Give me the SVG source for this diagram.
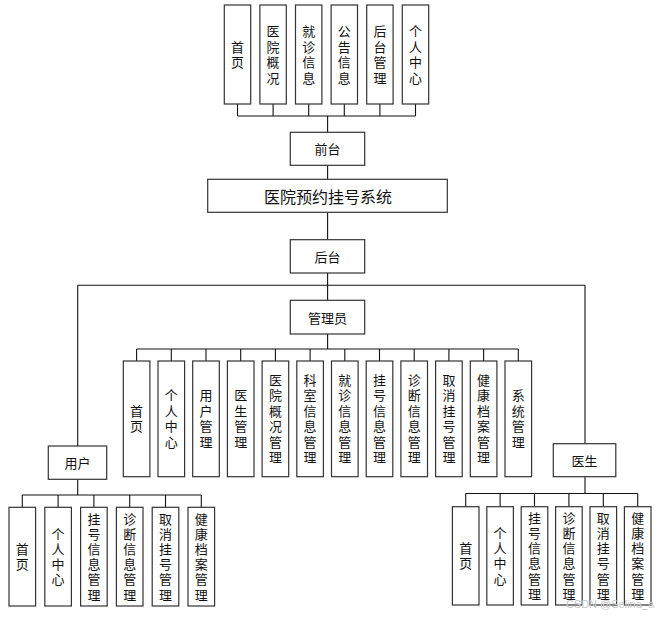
<svg xmlns="http://www.w3.org/2000/svg" width="664" height="618" viewBox="0 0 664 618">
<style>
rect.b{fill:#fff;stroke:#333;stroke-width:1.2}
text{font-family:"Noto Sans CJK SC","Liberation Sans",sans-serif;font-size:13px;fill:#111;text-anchor:middle}
text.h{dominant-baseline:central}
text.t{font-size:16px;dominant-baseline:central}
text.v{writing-mode:vertical-rl;text-orientation:upright;letter-spacing:2.5px}
text.u{letter-spacing:2.2px}
#connectors line{stroke:#111;stroke-width:1.1}
text.wm{font-family:"Liberation Sans",sans-serif;font-size:11px;fill:#c8c8c8;dominant-baseline:central}
</style>
<rect width="664" height="618" fill="#fff"/>
<g id="connectors">
<line x1="237.5" y1="104" x2="237.5" y2="116"/><line x1="273.1" y1="104" x2="273.1" y2="116"/><line x1="308.7" y1="104" x2="308.7" y2="116"/><line x1="344.3" y1="104" x2="344.3" y2="116"/><line x1="379.9" y1="104" x2="379.9" y2="116"/><line x1="415.5" y1="104" x2="415.5" y2="116"/>
<line x1="237.5" y1="116" x2="415.5" y2="116"/>
<line x1="327.6" y1="116" x2="327.6" y2="132.3"/>
<line x1="327.6" y1="165.3" x2="327.6" y2="179.3"/>
<line x1="327.6" y1="212.3" x2="327.6" y2="239.7"/>
<line x1="327.6" y1="273" x2="327.6" y2="300.3"/>
<line x1="77.7" y1="285.3" x2="585" y2="285.3"/>
<line x1="77.7" y1="285.3" x2="77.7" y2="446"/>
<line x1="585" y1="285.3" x2="585" y2="443.7"/>
<line x1="327.6" y1="334" x2="327.6" y2="349"/>
<line x1="136.6" y1="349" x2="518.3" y2="349"/>
<line x1="136.6" y1="349" x2="136.6" y2="361"/><line x1="171.3" y1="349" x2="171.3" y2="361"/><line x1="206" y1="349" x2="206" y2="361"/><line x1="240.7" y1="349" x2="240.7" y2="361"/><line x1="275.4" y1="349" x2="275.4" y2="361"/><line x1="310.1" y1="349" x2="310.1" y2="361"/><line x1="344.8" y1="349" x2="344.8" y2="361"/><line x1="379.5" y1="349" x2="379.5" y2="361"/><line x1="414.2" y1="349" x2="414.2" y2="361"/><line x1="448.9" y1="349" x2="448.9" y2="361"/><line x1="483.6" y1="349" x2="483.6" y2="361"/><line x1="518.3" y1="349" x2="518.3" y2="361"/>
<line x1="77.7" y1="479.3" x2="77.7" y2="495"/>
<line x1="22.3" y1="495" x2="201.3" y2="495"/>
<line x1="22.3" y1="495" x2="22.3" y2="507.3"/><line x1="58.1" y1="495" x2="58.1" y2="507.3"/><line x1="93.9" y1="495" x2="93.9" y2="507.3"/><line x1="129.7" y1="495" x2="129.7" y2="507.3"/><line x1="165.5" y1="495" x2="165.5" y2="507.3"/><line x1="201.3" y1="495" x2="201.3" y2="507.3"/>
<line x1="585" y1="476.7" x2="585" y2="493.5"/>
<line x1="465.7" y1="493.5" x2="637.7" y2="493.5"/>
<line x1="465.7" y1="493.5" x2="465.7" y2="506.7"/><line x1="500.1" y1="493.5" x2="500.1" y2="506.7"/><line x1="534.5" y1="493.5" x2="534.5" y2="506.7"/><line x1="568.9" y1="493.5" x2="568.9" y2="506.7"/><line x1="603.3" y1="493.5" x2="603.3" y2="506.7"/><line x1="637.7" y1="493.5" x2="637.7" y2="506.7"/>
</g>

<g id="front-1"><rect class="b" x="224.3" y="5" width="26.4" height="99"/><text class="v" x="237.5" y="55.7">首页</text></g>
<g id="front-2"><rect class="b" x="259.9" y="5" width="26.4" height="99"/><text class="v" x="273.1" y="55.7">医院概况</text></g>
<g id="front-3"><rect class="b" x="295.5" y="5" width="26.4" height="99"/><text class="v" x="308.7" y="55.7">就诊信息</text></g>
<g id="front-4"><rect class="b" x="331.1" y="5" width="26.4" height="99"/><text class="v" x="344.3" y="55.7">公告信息</text></g>
<g id="front-5"><rect class="b" x="366.7" y="5" width="26.4" height="99"/><text class="v" x="379.9" y="55.7">后台管理</text></g>
<g id="front-6"><rect class="b" x="402.3" y="5" width="26.4" height="99"/><text class="v" x="415.5" y="55.7">个人中心</text></g>

<g id="qiantai"><rect class="b" x="290.3" y="132.3" width="74.4" height="33"/><text class="h" x="327.5" y="148.8">前台</text></g>
<g id="system"><rect class="b" x="207.7" y="179.3" width="239.6" height="33"/><text class="t" x="328" y="196">医院预约挂号系统</text></g>
<g id="houtai"><rect class="b" x="290.3" y="239.7" width="74.4" height="33.3"/><text class="h" x="327.5" y="256.4">后台</text></g>
<g id="admin"><rect class="b" x="290.3" y="300.3" width="74.4" height="33.7"/><text class="h" x="327.5" y="317.2">管理员</text></g>
<g id="user"><rect class="b" x="48.3" y="446" width="58.4" height="33.3"/><text class="h" x="77.5" y="462.7">用户</text></g>
<g id="doctor"><rect class="b" x="553.3" y="443.7" width="62.5" height="33"/><text class="h" x="584.5" y="460.2">医生</text></g>

<g id="admin-1"><rect class="b" x="123.3" y="361" width="26.6" height="115.7"/><text class="v" x="136.6" y="420">首页</text></g>
<g id="admin-2"><rect class="b" x="158" y="361" width="26.6" height="115.7"/><text class="v" x="171.3" y="420">个人中心</text></g>
<g id="admin-3"><rect class="b" x="192.7" y="361" width="26.6" height="115.7"/><text class="v" x="206" y="420">用户管理</text></g>
<g id="admin-4"><rect class="b" x="227.4" y="361" width="26.6" height="115.7"/><text class="v" x="240.7" y="420">医生管理</text></g>
<g id="admin-5"><rect class="b" x="262.1" y="361" width="26.6" height="115.7"/><text class="v" x="275.4" y="420">医院概况管理</text></g>
<g id="admin-6"><rect class="b" x="296.8" y="361" width="26.6" height="115.7"/><text class="v" x="310.1" y="420">科室信息管理</text></g>
<g id="admin-7"><rect class="b" x="331.5" y="361" width="26.6" height="115.7"/><text class="v" x="344.8" y="420">就诊信息管理</text></g>
<g id="admin-8"><rect class="b" x="366.2" y="361" width="26.6" height="115.7"/><text class="v" x="379.5" y="420">挂号信息管理</text></g>
<g id="admin-9"><rect class="b" x="400.9" y="361" width="26.6" height="115.7"/><text class="v" x="414.2" y="420">诊断信息管理</text></g>
<g id="admin-10"><rect class="b" x="435.6" y="361" width="26.6" height="115.7"/><text class="v" x="448.9" y="420">取消挂号管理</text></g>
<g id="admin-11"><rect class="b" x="470.3" y="361" width="26.6" height="115.7"/><text class="v" x="483.6" y="420">健康档案管理</text></g>
<g id="admin-12"><rect class="b" x="505" y="361" width="26.6" height="115.7"/><text class="v" x="518.3" y="420">系统管理</text></g>

<g id="user-1"><rect class="b" x="9" y="507.3" width="26.6" height="98.7"/><text class="v u" x="22.3" y="557.8">首页</text></g>
<g id="user-2"><rect class="b" x="44.8" y="507.3" width="26.6" height="98.7"/><text class="v u" x="58.1" y="557.8">个人中心</text></g>
<g id="user-3"><rect class="b" x="80.6" y="507.3" width="26.6" height="98.7"/><text class="v u" x="93.9" y="557.8">挂号信息管理</text></g>
<g id="user-4"><rect class="b" x="116.4" y="507.3" width="26.6" height="98.7"/><text class="v u" x="129.7" y="557.8">诊断信息管理</text></g>
<g id="user-5"><rect class="b" x="152.2" y="507.3" width="26.6" height="98.7"/><text class="v u" x="165.5" y="557.8">取消挂号管理</text></g>
<g id="user-6"><rect class="b" x="188" y="507.3" width="26.6" height="98.7"/><text class="v u" x="201.3" y="557.8">健康档案管理</text></g>

<g id="doctor-1"><rect class="b" x="452.4" y="506.7" width="26.6" height="98.3"/><text class="v u" x="465.7" y="557">首页</text></g>
<g id="doctor-2"><rect class="b" x="486.8" y="506.7" width="26.6" height="98.3"/><text class="v u" x="500.1" y="557">个人中心</text></g>
<g id="doctor-3"><rect class="b" x="521.2" y="506.7" width="26.6" height="98.3"/><text class="v u" x="534.5" y="557">挂号信息管理</text></g>
<g id="doctor-4"><rect class="b" x="555.6" y="506.7" width="26.6" height="98.3"/><text class="v u" x="568.9" y="557">诊断信息管理</text></g>
<g id="doctor-5"><rect class="b" x="590" y="506.7" width="26.6" height="98.3"/><text class="v u" x="603.3" y="557">取消挂号管理</text></g>
<g id="doctor-6"><rect class="b" x="624.4" y="506.7" width="26.6" height="98.3"/><text class="v u" x="637.7" y="557">健康档案管理</text></g>

<text class="wm" x="610" y="604">CSDN @Selina_a</text>
</svg>
